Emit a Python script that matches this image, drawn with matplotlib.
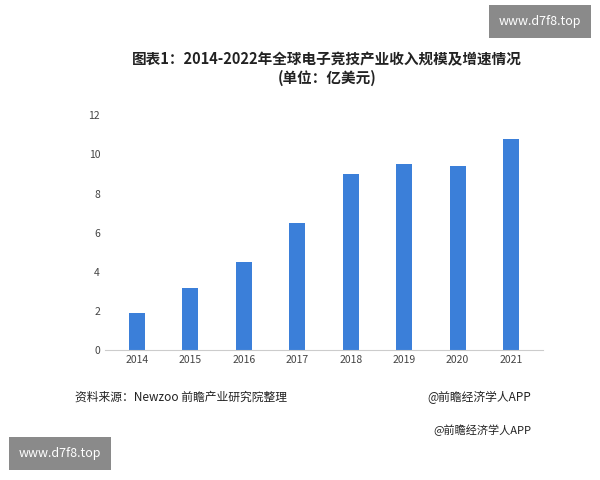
import matplotlib
matplotlib.use("Agg")
import matplotlib.pyplot as plt

plt.rcParams['font.family'] = ['Noto Sans CJK SC', 'DejaVu Sans']

years = ['2014', '2015', '2016', '2017', '2018', '2019', '2020', '2021']
revenue = [1.9, 3.2, 4.5, 6.5, 9.0, 9.5, 9.4, 10.8]
yticks = [0, 2, 4, 6, 8, 10, 12]

fig = plt.figure(figsize=(6, 4.8), dpi=100)
ax = fig.add_axes([0.175, 0.27, 0.73, 0.49])
ax.bar(years, revenue, width=0.3, color='#3b7fd9')
ax.set_ylim(0, 12)
ax.set_yticks(yticks)
ax.tick_params(axis='both', length=0, labelsize=7.5, colors='#444444')
for s in ['top', 'right', 'left']:
    ax.spines[s].set_visible(False)
ax.spines['bottom'].set_color('#cccccc')
ax.set_xlim(-0.6, 7.6)

fig.text(0.545, 0.865, '图表1：2014-2022年全球电子竞技产业收入规模及增速情况', ha='center',
         fontsize=10.5, fontweight='bold', color='#222222')
fig.text(0.545, 0.828, '(单位：亿美元)', ha='center', fontsize=10.5, fontweight='bold', color='#222222')
fig.text(0.125, 0.165, '资料来源：Newzoo 前瞻产业研究院整理', fontsize=8.5, color='#222222')
fig.text(0.885, 0.165, '@前瞻经济学人APP', fontsize=8.5, color='#222222', ha='right')
fig.text(0.885, 0.095, '@前瞻经济学人APP', fontsize=8, color='#222222', ha='right')
fig.text(0.9, 0.955, 'www.d7f8.top', fontsize=9, color='white', ha='center', va='center',
         bbox=dict(boxstyle='square,pad=0.8', fc='#8a8a8a', ec='none'))
fig.text(0.1, 0.055, 'www.d7f8.top', fontsize=9, color='white', ha='center', va='center',
         bbox=dict(boxstyle='square,pad=0.8', fc='#8a8a8a', ec='none'))
fig.savefig('out.png', dpi=100)
